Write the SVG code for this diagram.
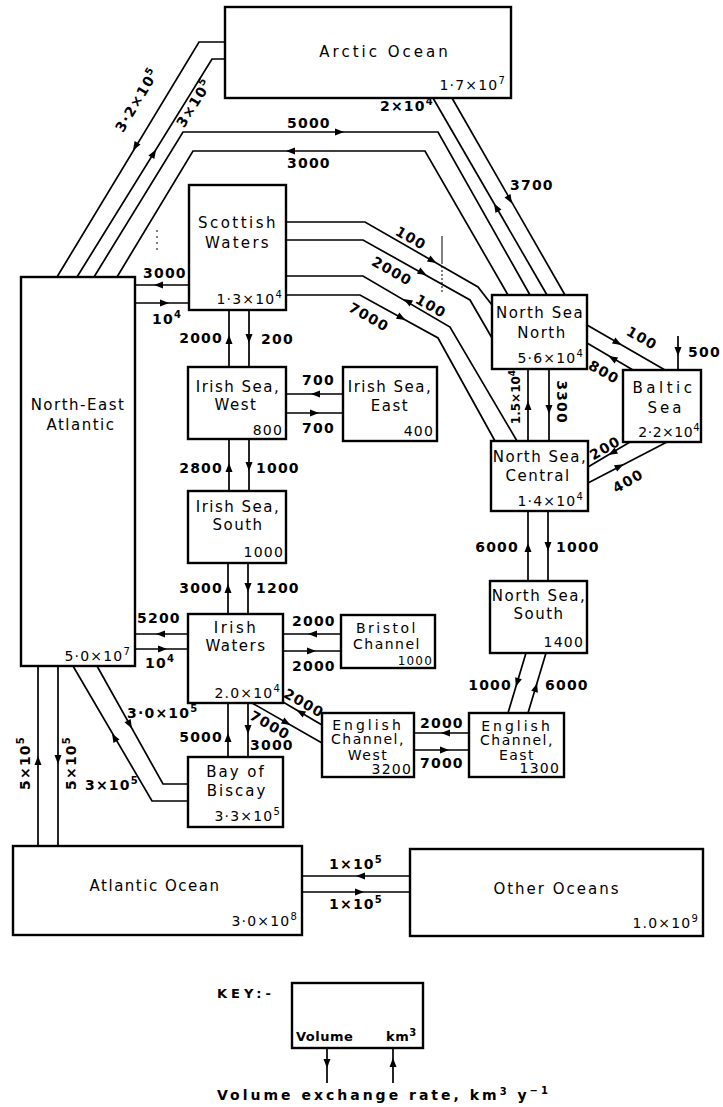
<svg xmlns="http://www.w3.org/2000/svg" width="723" height="1107" viewBox="0 0 723 1107">
<style>
.box{fill:#fff;stroke:#000;stroke-width:2.4}
.ln{fill:none;stroke:#000;stroke-width:1.7}
.art{fill:none;stroke:#000;stroke-width:1}
text{font-family:"DejaVu Sans","Liberation Sans",sans-serif;fill:#000}
.nm{font-size:15px;letter-spacing:1.5px;text-anchor:middle}
.nms{font-size:14px;letter-spacing:1.5px;text-anchor:middle}
.vol{font-size:14px;letter-spacing:1.2px;text-anchor:end}
.lb{font-size:14px;font-weight:bold;letter-spacing:1.2px}
.lbm{font-size:14px;font-weight:bold;letter-spacing:1.2px;text-anchor:middle}
.lbe{font-size:14px;font-weight:bold;letter-spacing:1.2px;text-anchor:end}
.sup{font-size:10px}
</style>
<defs>
<polygon id="ah" points="4,0 -5,-3.5 -5,3.5"/>
</defs>
<rect width="723" height="1107" fill="#fff"/>

<g id="connectors">
<path class="ln" d="M57,277 L199,42 L225,42"/>
<path class="ln" d="M77,277 L212,59 L225,59"/>
<path class="ln" d="M94,277 L183,132 L438,132 L530,295"/>
<path class="ln" d="M117,277 L193,151 L425,151 L508,295"/>
<path class="ln" d="M433,98 L547,295"/>
<path class="ln" d="M452,98 L565,295"/>
<path class="ln" d="M135,285 L189,285"/>
<path class="ln" d="M135,303 L189,303"/>
<path class="ln" d="M286,222 L365,222 L478,287 L492,305"/>
<path class="ln" d="M286,240 L363,240 L470,300 L492,338"/>
<path class="ln" d="M286,276 L363,276 L450,327 L517,441"/>
<path class="ln" d="M286,295 L360,295 L438,338 L495,441"/>
<path class="ln" d="M528,369 L528,441 M549,369 L549,441"/>
<path class="ln" d="M587,325 L665,370 M587,343 L633,370"/>
<path class="ln" d="M678,336 L678,370"/>
<path class="ln" d="M588,467 L630,442 M588,483 L667,442"/>
<path class="ln" d="M528,511 L528,581 M548,511 L548,581"/>
<path class="ln" d="M526,653 L508,713 M546,653 L528,713"/>
<path class="ln" d="M414,733 L469,733 M414,750 L469,750"/>
<path class="ln" d="M283,702 L322,725 M252,703 L322,743"/>
<path class="ln" d="M283,634 L341,634 M283,651 L341,651"/>
<path class="ln" d="M135,634 L188,634 M135,649 L188,649"/>
<path class="ln" d="M229,310 L229,367 M249,310 L249,367"/>
<path class="ln" d="M286,394 L343,394 M286,413 L343,413"/>
<path class="ln" d="M229,439 L229,491 M249,439 L249,491"/>
<path class="ln" d="M228,563 L228,614 M248,563 L248,614"/>
<path class="ln" d="M228,703 L228,757 M248,703 L248,757"/>
<path class="ln" d="M73,666 L152,801 L188,801"/>
<path class="ln" d="M97,666 L163,784 L188,784"/>
<path class="ln" d="M38,666 L38,846 M58,666 L58,846"/>
<path class="ln" d="M302,876 L410,876 M302,892 L410,892"/>
<path class="ln" d="M327,1048 L327,1083 M393,1048 L393,1083"/>
<path class="art" d="M442,236 L442,262"/>
<path class="art" d="M442,262 L442,292" stroke-dasharray="2,2"/>
<path class="art" d="M157,230 L157,254" stroke-dasharray="2,4"/>
<use href="#ah" transform="translate(135,147) rotate(121)"/>
<use href="#ah" transform="translate(154,153) rotate(-58)"/>
<use href="#ah" transform="translate(340,132) rotate(0)"/>
<use href="#ah" transform="translate(290,151) rotate(180)"/>
<use href="#ah" transform="translate(510,200) rotate(60)"/>
<use href="#ah" transform="translate(496,207) rotate(-120)"/>
<use href="#ah" transform="translate(158,285) rotate(180)"/>
<use href="#ah" transform="translate(165,303) rotate(0)"/>
<use href="#ah" transform="translate(433,261) rotate(30)"/>
<use href="#ah" transform="translate(423,273) rotate(29)"/>
<use href="#ah" transform="translate(407,301) rotate(210)"/>
<use href="#ah" transform="translate(402,318) rotate(29)"/>
<use href="#ah" transform="translate(528,405) rotate(-90)"/>
<use href="#ah" transform="translate(549,410) rotate(90)"/>
<use href="#ah" transform="translate(618,343) rotate(30)"/>
<use href="#ah" transform="translate(612,358) rotate(210)"/>
<use href="#ah" transform="translate(678,352) rotate(90)"/>
<use href="#ah" transform="translate(612,453) rotate(149)"/>
<use href="#ah" transform="translate(620,466) rotate(-27)"/>
<use href="#ah" transform="translate(528,547) rotate(-90)"/>
<use href="#ah" transform="translate(548,547) rotate(90)"/>
<use href="#ah" transform="translate(517,683) rotate(107)"/>
<use href="#ah" transform="translate(536,687) rotate(-73)"/>
<use href="#ah" transform="translate(445,733) rotate(180)"/>
<use href="#ah" transform="translate(445,750) rotate(0)"/>
<use href="#ah" transform="translate(300,712) rotate(210)"/>
<use href="#ah" transform="translate(287,723) rotate(30)"/>
<use href="#ah" transform="translate(312,634) rotate(180)"/>
<use href="#ah" transform="translate(312,651) rotate(0)"/>
<use href="#ah" transform="translate(160,634) rotate(180)"/>
<use href="#ah" transform="translate(163,649) rotate(0)"/>
<use href="#ah" transform="translate(229,339) rotate(-90)"/>
<use href="#ah" transform="translate(249,339) rotate(90)"/>
<use href="#ah" transform="translate(315,394) rotate(180)"/>
<use href="#ah" transform="translate(315,413) rotate(0)"/>
<use href="#ah" transform="translate(229,467) rotate(-90)"/>
<use href="#ah" transform="translate(249,467) rotate(90)"/>
<use href="#ah" transform="translate(228,588) rotate(-90)"/>
<use href="#ah" transform="translate(248,588) rotate(90)"/>
<use href="#ah" transform="translate(228,737) rotate(-90)"/>
<use href="#ah" transform="translate(248,730) rotate(90)"/>
<use href="#ah" transform="translate(114,737) rotate(-120)"/>
<use href="#ah" transform="translate(130,725) rotate(61)"/>
<use href="#ah" transform="translate(38,760) rotate(-90)"/>
<use href="#ah" transform="translate(58,760) rotate(90)"/>
<use href="#ah" transform="translate(360,876) rotate(180)"/>
<use href="#ah" transform="translate(360,892) rotate(0)"/>
<use href="#ah" transform="translate(327,1064) rotate(90)"/>
<use href="#ah" transform="translate(393,1062) rotate(-90)"/>
</g>

<g id="connector-labels">
<text class="lbm" transform="translate(137,100) rotate(-59)" y="5">3·2×10<tspan class="sup" dy="-6">5</tspan></text>
<text class="lbm" transform="translate(194,103) rotate(-58)" y="5">3×10<tspan class="sup" dy="-6">5</tspan></text>
<text class="lb" x="287" y="128">5000</text>
<text class="lb" x="287" y="168">3000</text>
<text class="lb" x="380" y="111">2×10<tspan class="sup" dy="-6">4</tspan></text>
<text class="lb" x="510" y="190">3700</text>
<text class="lb" x="143" y="278">3000</text>
<text class="lb" x="152" y="324">10<tspan class="sup" dy="-6">4</tspan></text>
<text class="lbm" transform="translate(411,238) rotate(30)" y="5">100</text>
<text class="lbm" transform="translate(392,271) rotate(30)" y="5">2000</text>
<text class="lbm" transform="translate(431,306) rotate(30)" y="5">100</text>
<text class="lbm" transform="translate(369,317) rotate(30)" y="5">7000</text>
<text class="lbm" transform="translate(516,397) rotate(-90)" y="4" style="font-size:12px;letter-spacing:0">1.5×10<tspan class="sup" dy="-5" style="font-size:9px">4</tspan></text>
<text class="lbm" transform="translate(562,402) rotate(90)" y="5">3300</text>
<text class="lbm" transform="translate(642,338) rotate(30)" y="5">100</text>
<text class="lbm" transform="translate(604,372) rotate(30)" y="5">800</text>
<text class="lb" x="688" y="357">500</text>
<text class="lbm" transform="translate(605,448) rotate(-30)" y="5">200</text>
<text class="lbm" transform="translate(628,481) rotate(-30)" y="5">400</text>
<text class="lbe" x="519" y="552">6000</text>
<text class="lb" x="556" y="552">1000</text>
<text class="lbe" x="512" y="690">1000</text>
<text class="lb" x="545" y="690">6000</text>
<text class="lb" x="420" y="728">2000</text>
<text class="lb" x="420" y="768">7000</text>
<text class="lbm" transform="translate(304,703) rotate(30)" y="5">2000</text>
<text class="lbm" transform="translate(270,725) rotate(30)" y="5">7000</text>
<text class="lb" x="292" y="626">2000</text>
<text class="lb" x="292" y="671">2000</text>
<text class="lb" x="137" y="623">5200</text>
<text class="lb" x="145" y="668">10<tspan class="sup" dy="-6">4</tspan></text>
<text class="lbe" x="223" y="343">2000</text>
<text class="lb" x="261" y="344">200</text>
<text class="lb" x="302" y="385">700</text>
<text class="lb" x="302" y="433">700</text>
<text class="lbe" x="223" y="473">2800</text>
<text class="lb" x="256" y="473">1000</text>
<text class="lbe" x="223" y="593">3000</text>
<text class="lb" x="256" y="593">1200</text>
<text class="lbe" x="223" y="742">5000</text>
<text class="lb" x="250" y="750">3000</text>
<text class="lb" x="127" y="718">3·0×10<tspan class="sup" dy="-6">5</tspan></text>
<text class="lb" x="85" y="790">3×10<tspan class="sup" dy="-6">5</tspan></text>
<text class="lbm" transform="translate(25,763) rotate(-90)" y="5">5×10<tspan class="sup" dy="-6">5</tspan></text>
<text class="lbm" transform="translate(71,763) rotate(-90)" y="5">5×10<tspan class="sup" dy="-6">5</tspan></text>
<text class="lbm" x="356" y="869">1×10<tspan class="sup" dy="-6">5</tspan></text>
<text class="lbm" x="356" y="909">1×10<tspan class="sup" dy="-6">5</tspan></text>
</g>

<g id="arctic-ocean"><rect class="box" x="225" y="7" width="286" height="91"/><text class="nm" x="385" y="57" style="letter-spacing:3px">Arctic Ocean</text><text class="vol" x="506" y="90">1·7×10<tspan class="sup" dy="-6">7</tspan></text></g>
<g id="scottish-waters"><rect class="box" x="189" y="185" width="97" height="125"/><text class="nm" x="238" y="228" style="letter-spacing:2.5px">Scottish</text><text class="nm" x="238" y="248" style="letter-spacing:2.3px">Waters</text><text class="vol" x="283" y="304">1·3×10<tspan class="sup" dy="-6">4</tspan></text></g>
<g id="north-east-atlantic"><rect class="box" x="21" y="277" width="114" height="389"/><text class="nm" x="78" y="410">North-East</text><text class="nm" x="81" y="430">Atlantic</text><text class="vol" x="131" y="661">5·0×10<tspan class="sup" dy="-6">7</tspan></text></g>
<g id="irish-sea-west"><rect class="box" x="188" y="367" width="98" height="72"/><text class="nm" x="238" y="392">Irish Sea,</text><text class="nm" x="236" y="410">West</text><text class="vol" x="283" y="435">800</text></g>
<g id="irish-sea-east"><rect class="box" x="343" y="367" width="94" height="74"/><text class="nm" x="390" y="392">Irish Sea,</text><text class="nm" x="390" y="411">East</text><text class="vol" x="434" y="436">400</text></g>
<g id="irish-sea-south"><rect class="box" x="188" y="491" width="98" height="72"/><text class="nm" x="238" y="512">Irish Sea,</text><text class="nm" x="238" y="530">South</text><text class="vol" x="284" y="557">1000</text></g>
<g id="irish-waters"><rect class="box" x="188" y="614" width="95" height="89"/><text class="nm" x="236" y="633" style="letter-spacing:2.5px">Irish</text><text class="nm" x="236" y="651">Waters</text><text class="vol" x="281" y="698">2.0×10<tspan class="sup" dy="-6">4</tspan></text></g>
<g id="bristol-channel"><rect class="box" x="341" y="615" width="94" height="53"/><text class="nms" x="387" y="633" style="letter-spacing:2.5px">Bristol</text><text class="nms" x="387" y="649">Channel</text><text class="vol" x="433" y="665" style="font-size:12px">1000</text></g>
<g id="english-channel-west"><rect class="box" x="322" y="713" width="92" height="64"/><text class="nms" x="368" y="730" style="letter-spacing:3px">English</text><text class="nms" x="368" y="744">Channel,</text><text class="nms" x="368" y="760">West</text><text class="vol" x="412" y="774">3200</text></g>
<g id="english-channel-east"><rect class="box" x="469" y="713" width="95" height="64"/><text class="nms" x="517" y="731" style="letter-spacing:3px">English</text><text class="nms" x="517" y="745">Channel,</text><text class="nms" x="517" y="760">East</text><text class="vol" x="560" y="773">1300</text></g>
<g id="north-sea-south"><rect class="box" x="490" y="581" width="97" height="72"/><text class="nm" x="539" y="601">North Sea,</text><text class="nm" x="539" y="619">South</text><text class="vol" x="584" y="647">1400</text></g>
<g id="north-sea-north"><rect class="box" x="492" y="295" width="95" height="74"/><text class="nm" x="540" y="318">North Sea</text><text class="nm" x="542" y="338">North</text><text class="vol" x="584" y="363">5·6×10<tspan class="sup" dy="-6">4</tspan></text></g>
<g id="north-sea-central"><rect class="box" x="491" y="441" width="97" height="70"/><text class="nm" x="540" y="462">North Sea,</text><text class="nm" x="538" y="481">Central</text><text class="vol" x="584" y="506">1·4×10<tspan class="sup" dy="-6">4</tspan></text></g>
<g id="baltic-sea"><rect class="box" x="623" y="370" width="78" height="72"/><text class="nm" x="664" y="393" style="letter-spacing:3.5px">Baltic</text><text class="nm" x="666" y="413" style="letter-spacing:3px">Sea</text><text class="vol" x="700" y="437" style="letter-spacing:0.5px">2·2×10<tspan class="sup" dy="-6">4</tspan></text></g>
<g id="bay-of-biscay"><rect class="box" x="188" y="757" width="95" height="70"/><text class="nm" x="236" y="777" style="letter-spacing:2px">Bay of</text><text class="nm" x="237" y="796" style="letter-spacing:2px">Biscay</text><text class="vol" x="281" y="821">3·3×10<tspan class="sup" dy="-6">5</tspan></text></g>
<g id="atlantic-ocean"><rect class="box" x="13" y="846" width="289" height="89"/><text class="nm" x="155" y="891">Atlantic Ocean</text><text class="vol" x="298" y="926">3·0×10<tspan class="sup" dy="-6">8</tspan></text></g>
<g id="other-oceans"><rect class="box" x="410" y="849" width="293" height="87"/><text class="nm" x="557" y="894" style="letter-spacing:2px">Other Oceans</text><text class="vol" x="699" y="928">1.0×10<tspan class="sup" dy="-6">9</tspan></text></g>

<g id="key">
<text class="lb" x="217" y="998" style="font-size:13px;letter-spacing:4px">KEY:-</text>
<rect class="box" x="292" y="983" width="131" height="65"/>
<text class="lb" x="296" y="1041" style="font-size:13px;letter-spacing:0.5px">Volume</text>
<text class="lb" x="386" y="1041" style="font-size:13px;letter-spacing:0.5px">km<tspan class="sup" dy="-5">3</tspan></text>
<text class="lb" x="217" y="1100" style="letter-spacing:3px">Volume exchange rate, km<tspan class="sup" dy="-5">3</tspan><tspan dy="5"> y</tspan><tspan class="sup" dy="-6">−1</tspan></text>
</g>
</svg>
